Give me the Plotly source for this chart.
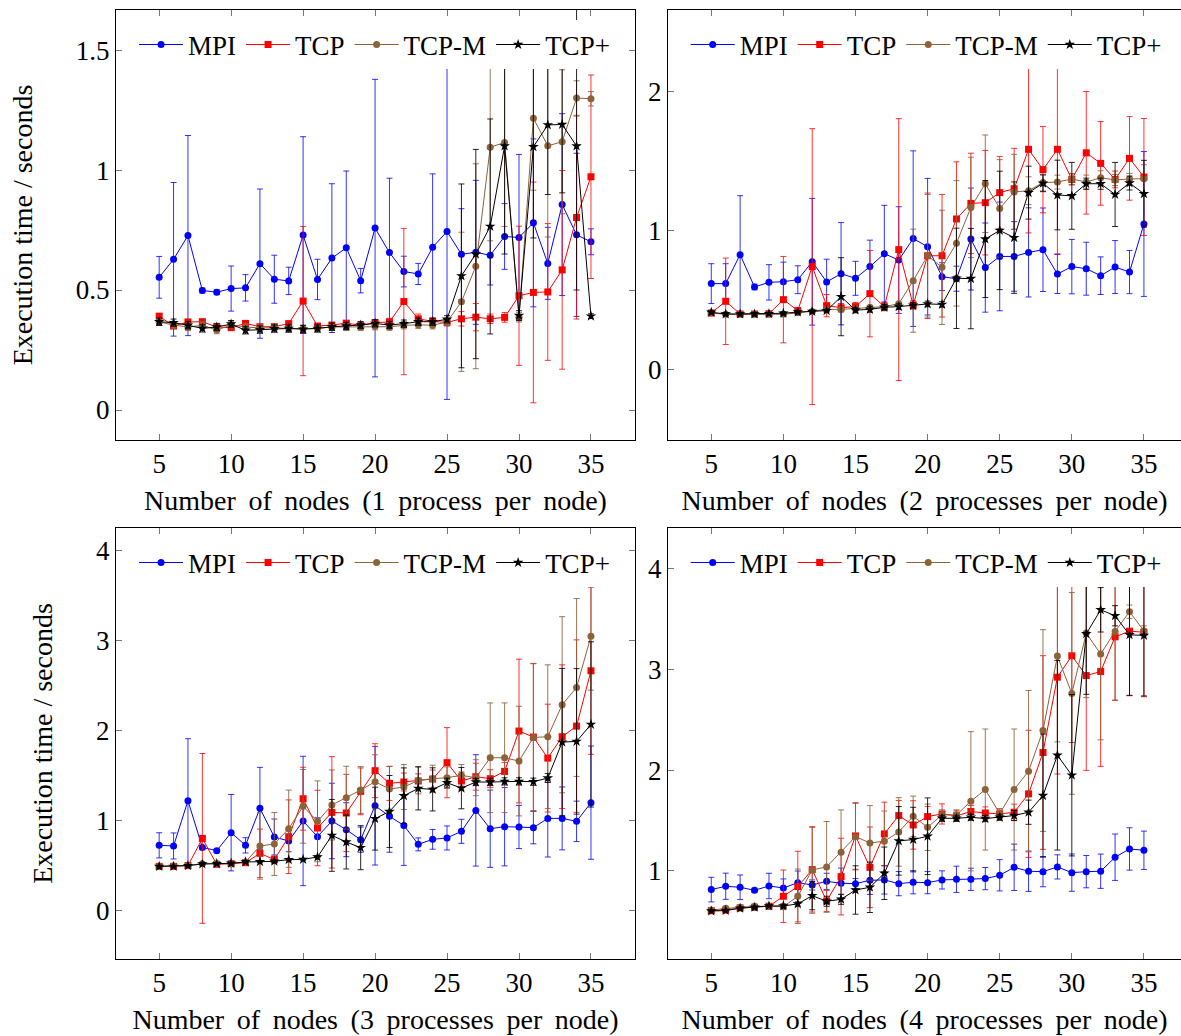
import plotly.graph_objects as go

NODES = [5, 6, 7, 8, 9, 10, 11, 12, 13, 14, 15, 16, 17, 18, 19, 20,
         21, 22, 23, 24, 25, 26, 27, 28, 29, 30, 31, 32, 33, 34, 35]

# ---- 1 process per node ----
MPI1 = [0.553, 0.628, 0.727, 0.498, 0.491, 0.506, 0.509, 0.61, 0.545, 0.538, 0.729, 0.544, 0.633, 0.676, 0.539, 0.758,
        0.656, 0.577, 0.567, 0.678, 0.744, 0.649, 0.657, 0.645, 0.723, 0.719, 0.78, 0.611, 0.856, 0.73, 0.701]
MPI1_ERR = [0.087, 0.32, 0.417, 0.01, 0.01, 0.094, 0.055, 0.311, 0.10, 0.057, 0.41, 0.084, 0.31, 0.32, 0.051, 0.62,
            0.31, 0.064, 0.044, 0.306, 0.70, 0.19, 0.30, 0.124, 0.137, 0.346, 0.35, 0.15, 0.379, 0.34, 0.054]
TCP1 = [0.391, 0.35, 0.367, 0.368, 0.346, 0.343, 0.361, 0.347, 0.347, 0.36, 0.454, 0.35, 0.354, 0.362, 0.353, 0.364,
        0.367, 0.452, 0.38, 0.369, 0.365, 0.38, 0.387, 0.38, 0.386, 0.476, 0.49, 0.492, 0.584, 0.802, 0.972]
TCP1_ERR = [0.01, 0.01, 0.01, 0.01, 0.01, 0.01, 0.01, 0.01, 0.01, 0.01, 0.311, 0.01, 0.01, 0.01, 0.01, 0.01,
            0.015, 0.305, 0.02, 0.015, 0.015, 0.03, 0.057, 0.02, 0.02, 0.29, 0.46, 0.285, 0.414, 0.423, 0.424]
TCPM1 = [0.367, 0.354, 0.346, 0.353, 0.333, 0.355, 0.346, 0.342, 0.343, 0.339, 0.339, 0.34, 0.346, 0.346, 0.346, 0.349,
         0.347, 0.353, 0.355, 0.353, 0.367, 0.451, 0.599, 1.095, 1.115, 0.387, 1.216, 1.101, 1.118, 1.30, 1.297]
TCPM1_ERR = [0.015, 0.015, 0.015, 0.015, 0.015, 0.015, 0.015, 0.015, 0.015, 0.015, 0.015, 0.015, 0.015, 0.015, 0.015, 0.015,
             0.015, 0.015, 0.015, 0.015, 0.015, 0.29, 0.427, 0.39, 0.35, 0.02, 0.3, 0.38, 0.3, 0.072, 0.03]
TCPP1 = [0.368, 0.364, 0.353, 0.34, 0.346, 0.358, 0.332, 0.335, 0.339, 0.34, 0.337, 0.34, 0.347, 0.35, 0.354, 0.361,
         0.354, 0.36, 0.368, 0.368, 0.378, 0.559, 0.65, 0.765, 1.10, 0.394, 1.097, 1.188, 1.19, 1.10, 0.391]
TCPP1_ERR = [0.015, 0.015, 0.015, 0.015, 0.015, 0.015, 0.015, 0.015, 0.015, 0.015, 0.015, 0.015, 0.015, 0.015, 0.015, 0.015,
             0.015, 0.015, 0.015, 0.015, 0.015, 0.383, 0.436, 0.448, 0.45, 0.02, 0.38, 0.29, 0.285, 0.6, 0.01]

# ---- 2 processes per node ----
MPI2 = [0.62, 0.62, 0.828, 0.596, 0.629, 0.634, 0.648, 0.777, 0.632, 0.691, 0.658, 0.742, 0.835, 0.789, 0.943, 0.885,
        0.67, 0.655, 0.94, 0.735, 0.815, 0.815, 0.844, 0.863, 0.689, 0.742, 0.727, 0.677, 0.739, 0.703, 1.048]
MPI2_ERR = [0.143, 0.143, 0.423, 0.02, 0.127, 0.14, 0.1, 0.455, 0.163, 0.367, 0.122, 0.19, 0.347, 0.383, 0.63, 0.49,
            0.1, 0.09, 0.366, 0.32, 0.39, 0.25, 0.32, 0.30, 0.14, 0.195, 0.19, 0.135, 0.19, 0.155, 0.52]
TCP2 = [0.409, 0.493, 0.402, 0.402, 0.404, 0.505, 0.426, 0.742, 0.462, 0.447, 0.455, 0.548, 0.455, 0.864, 0.466, 0.82,
        0.82, 1.084, 1.196, 1.201, 1.273, 1.301, 1.584, 1.438, 1.584, 1.368, 1.559, 1.483, 1.368, 1.519, 1.385]
TCP2_ERR = [0.01, 0.31, 0.01, 0.01, 0.01, 0.31, 0.02, 0.99, 0.08, 0.03, 0.03, 0.31, 0.03, 0.94, 0.03, 0.45,
            0.44, 0.41, 0.36, 0.375, 0.26, 0.29, 0.6, 0.31, 0.75, 0.04, 0.44, 0.30, 0.06, 0.30, 0.42]
TCPM2 = [0.409, 0.40, 0.40, 0.40, 0.40, 0.40, 0.41, 0.42, 0.435, 0.435, 0.44, 0.45, 0.455, 0.475, 0.641, 0.82,
         0.737, 0.909, 1.167, 1.337, 1.16, 1.278, 1.287, 1.345, 1.349, 1.371, 1.349, 1.38, 1.364, 1.371, 1.373]
TCPM2_ERR = [0.01, 0.01, 0.01, 0.01, 0.01, 0.01, 0.01, 0.01, 0.01, 0.01, 0.01, 0.01, 0.01, 0.01, 0.37, 0.44,
             0.41, 0.45, 0.36, 0.35, 0.35, 0.27, 0.1, 0.06, 0.05, 0.04, 0.05, 0.05, 0.04, 0.04, 0.1]
TCPP2 = [0.414, 0.402, 0.402, 0.402, 0.404, 0.407, 0.416, 0.42, 0.426, 0.526, 0.43, 0.435, 0.45, 0.455, 0.464, 0.474,
         0.471, 0.658, 0.656, 0.94, 1.002, 0.95, 1.273, 1.34, 1.256, 1.25, 1.337, 1.337, 1.26, 1.342, 1.265]
TCPP2_ERR = [0.01, 0.01, 0.01, 0.01, 0.01, 0.01, 0.01, 0.01, 0.01, 0.28, 0.02, 0.02, 0.02, 0.02, 0.02, 0.02,
             0.02, 0.36, 0.36, 0.42, 0.425, 0.4, 0.19, 0.06, 0.25, 0.24, 0.04, 0.04, 0.23, 0.05, 0.24]

# ---- 3 processes per node ----
MPI3 = [0.723, 0.716, 1.22, 0.70, 0.664, 0.864, 0.723, 1.135, 0.816, 0.771, 0.994, 0.82, 0.994, 0.897, 0.786, 1.164,
        1.046, 0.945, 0.734, 0.79, 0.805, 0.879, 1.112, 0.908, 0.931, 0.927, 0.92, 1.023, 1.023, 0.99, 1.198]
MPI3_ERR = [0.14, 0.145, 0.69, 0.02, 0.02, 0.425, 0.085, 0.456, 0.2, 0.12, 0.72, 0.21, 0.42, 0.3, 0.14, 0.66,
            0.4, 0.445, 0.072, 0.11, 0.134, 0.134, 0.62, 0.43, 0.436, 0.24, 0.18, 0.43, 0.35, 0.225, 0.63]
TCP3 = [0.489, 0.489, 0.497, 0.80, 0.512, 0.519, 0.53, 0.634, 0.564, 0.819, 1.242, 0.916, 1.09, 1.083, 1.324, 1.554,
        1.413, 1.428, 1.439, 1.461, 1.643, 1.439, 1.487, 1.465, 1.546, 1.995, 1.928, 1.694, 1.932, 2.05, 2.666]
TCP3_ERR = [0.01, 0.01, 0.01, 0.945, 0.01, 0.02, 0.02, 0.27, 0.04, 0.41, 0.35, 0.42, 0.62, 0.43, 0.26, 0.3,
            0.19, 0.1, 0.08, 0.1, 0.39, 0.1, 0.15, 0.1, 0.1, 0.8, 0.82, 0.6, 0.8, 0.96, 0.93]
TCPM3 = [0.489, 0.492, 0.5, 0.519, 0.519, 0.519, 0.538, 0.716, 0.738, 0.908, 1.157, 0.99, 1.172, 1.253, 1.339, 1.431,
         1.35, 1.372, 1.446, 1.465, 1.476, 1.502, 1.476, 1.698, 1.698, 1.661, 1.924, 1.932, 2.288, 2.48, 3.05]
TCPM3_ERR = [0.01, 0.01, 0.01, 0.01, 0.01, 0.01, 0.02, 0.37, 0.35, 0.43, 0.41, 0.45, 0.39, 0.35, 0.26, 0.3,
             0.25, 0.25, 0.15, 0.15, 0.12, 0.12, 0.2, 0.61, 0.61, 0.61, 0.82, 0.8, 0.98, 0.99, 0.6]
TCPP3 = [0.489, 0.489, 0.497, 0.515, 0.519, 0.523, 0.538, 0.541, 0.545, 0.564, 0.567, 0.593, 0.834, 0.76, 0.697, 1.02,
         1.10, 1.275, 1.357, 1.346, 1.42, 1.36, 1.428, 1.428, 1.435, 1.435, 1.431, 1.472, 1.872, 1.88, 2.069]
TCPP3_ERR = [0.01, 0.01, 0.01, 0.01, 0.01, 0.01, 0.01, 0.01, 0.01, 0.01, 0.01, 0.01, 0.4, 0.3, 0.245, 0.35,
             0.4, 0.31, 0.24, 0.24, 0.05, 0.23, 0.04, 0.04, 0.04, 0.04, 0.04, 0.05, 0.82, 0.81, 0.92]

# ---- 4 processes per node ----
MPI4 = [0.815, 0.848, 0.838, 0.808, 0.851, 0.831, 0.884, 0.861, 0.897, 0.878, 0.874, 0.907, 0.911, 0.874, 0.888, 0.884,
        0.911, 0.917, 0.917, 0.924, 0.957, 1.036, 0.997, 0.993, 1.04, 0.983, 0.993, 0.997, 1.136, 1.218, 1.205]
MPI4_ERR = [0.122, 0.13, 0.122, 0.02, 0.126, 0.09, 0.115, 0.05, 0.08, 0.15, 0.05, 0.14, 0.14, 0.12, 0.115, 0.11,
            0.09, 0.13, 0.11, 0.11, 0.155, 0.23, 0.2, 0.15, 0.12, 0.185, 0.16, 0.17, 0.23, 0.21, 0.19]
TCP4 = [0.606, 0.613, 0.633, 0.64, 0.65, 0.749, 0.845, 1.013, 0.702, 0.944, 1.347, 1.036, 1.367, 1.549, 1.456, 1.539,
        1.565, 1.546, 1.589, 1.575, 1.565, 1.582, 1.764, 2.174, 2.921, 3.133, 2.937, 2.977, 3.321, 3.377, 3.367]
TCP4_ERR = [0.01, 0.01, 0.01, 0.01, 0.01, 0.26, 0.35, 0.42, 0.105, 0.38, 0.33, 0.4, 0.315, 0.15, 0.24, 0.1,
            0.1, 0.05, 0.06, 0.06, 0.04, 0.08, 0.63, 0.96, 0.96, 0.86, 0.94, 0.94, 0.63, 0.64, 0.64]
TCPM4 = [0.613, 0.63, 0.64, 0.65, 0.65, 0.646, 0.749, 1.01, 1.04, 1.185, 1.34, 1.278, 1.294, 1.387, 1.542, 1.433,
         1.556, 1.556, 1.691, 1.807, 1.569, 1.807, 1.989, 2.392, 3.13, 2.76, 3.358, 3.15, 3.374, 3.57, 3.38]
TCPM4_ERR = [0.01, 0.01, 0.01, 0.01, 0.01, 0.01, 0.27, 0.43, 0.45, 0.42, 0.33, 0.37, 0.3, 0.34, 0.2, 0.23,
             0.05, 0.05, 0.69, 0.6, 0.05, 0.6, 0.8, 1.0, 0.85, 1.0, 0.64, 0.85, 0.68, 0.066, 0.05]
TCPP4 = [0.603, 0.607, 0.63, 0.64, 0.653, 0.653, 0.673, 0.755, 0.699, 0.719, 0.811, 0.838, 0.977, 1.298, 1.311, 1.344,
         1.522, 1.522, 1.532, 1.519, 1.532, 1.549, 1.582, 1.747, 2.147, 1.949, 3.351, 3.589, 3.53, 3.341, 3.335]
TCPP4_ERR = [0.01, 0.01, 0.01, 0.01, 0.01, 0.02, 0.02, 0.14, 0.05, 0.05, 0.24, 0.25, 0.26, 0.34, 0.32, 0.38,
             0.03, 0.03, 0.03, 0.03, 0.03, 0.05, 0.12, 0.61, 0.94, 0.8, 0.6, 0.22, 0.1, 0.6, 0.6]

SERIES_NAMES = ["MPI", "TCP", "TCP-M", "TCP+"]
X_TITLES = ["Number of nodes (1 process per node)", "Number of nodes (2 processes per node)",
            "Number of nodes (3 processes per node)", "Number of nodes (4 processes per node)"]
Y_TITLE = "Execution time / seconds"
Y_TICKS = [[0, 0.5, 1, 1.5], [0, 1, 2], [0, 1, 2, 3, 4], [1, 2, 3, 4]]
Y_TICKTEXT = [["0", "0.5", "1", "1.5"], ["0", "1", "2"], ["0", "1", "2", "3", "4"], ["1", "2", "3", "4"]]
X_TICKS = [5, 10, 15, 20, 25, 30, 35]

PANELS = [
    [(MPI1, MPI1_ERR), (TCP1, TCP1_ERR), (TCPM1, TCPM1_ERR), (TCPP1, TCPP1_ERR)],
    [(MPI2, MPI2_ERR), (TCP2, TCP2_ERR), (TCPM2, TCPM2_ERR), (TCPP2, TCPP2_ERR)],
    [(MPI3, MPI3_ERR), (TCP3, TCP3_ERR), (TCPM3, TCPM3_ERR), (TCPP3, TCPP3_ERR)],
    [(MPI4, MPI4_ERR), (TCP4, TCP4_ERR), (TCPM4, TCPM4_ERR), (TCPP4, TCPP4_ERR)],
]

LINE_COLORS = ["#0000ff", "#ff0000", "#8c6239", "#000000"]
ERR_COLORS = ["rgba(0,0,255,0.8)", "rgba(255,0,0,0.8)", "rgba(140,98,57,0.85)", "rgba(0,0,0,0.85)"]
SYMBOLS = ["circle", "square", "circle", "star"]
MSIZES = [7, 7, 7, 8]

W, H = 1181, 1036
FONT = "Liberation Serif, DejaVu Serif, serif"
TICK_SIZE = 27
TITLE_SIZE = 28
LEG_SIZE = 27

# pixel geometry of the four frames (left, right, top, bottom)
FRAMES = [(116, 635, 10, 440), (668, 1181, 10, 440), (116, 635, 528, 959), (668, 1181, 528, 959)]
X_RANGES = [[2.0, 38.06], [2.0, 37.57], [2.0, 38.06], [2.0, 37.57]]
Y_RANGES = [[-0.125, 1.667], [-0.5025, 2.584], [-0.542, 4.255], [0.127, 4.40]]
LEG_POS = [(0.1135, 0.9566), (0.5806, 0.9566), (0.1135, 0.4566), (0.5806, 0.4566)]


def spaced(text, sep):
    return sep.join(text.split(" "))


fig = go.Figure()
layout = dict(width=W, height=H, margin=dict(l=0, r=0, t=0, b=0),
              paper_bgcolor="white", plot_bgcolor="white",
              font=dict(family=FONT, size=TITLE_SIZE, color="black"))

for p in range(4):
    sfx = "" if p == 0 else str(p + 1)
    leg = "legend" if p == 0 else "legend%d" % (p + 1)
    right_panel = p in (1, 3)
    for s, (vals, errs) in enumerate(PANELS[p]):
        fig.add_trace(go.Scatter(
            x=NODES, y=vals, name=SERIES_NAMES[s], mode="lines+markers",
            xaxis="x" + sfx, yaxis="y" + sfx, legend=leg,
            line=dict(color=LINE_COLORS[s], width=1),
            marker=dict(symbol=SYMBOLS[s], size=MSIZES[s], color=LINE_COLORS[s],
                        line=dict(width=0)),
            error_y=dict(type="data", array=errs, visible=True, color=ERR_COLORS[s],
                         thickness=1, width=3),
            cliponaxis=True,
        ))
    l, r, t, b = FRAMES[p]
    layout["xaxis" + sfx] = dict(
        domain=[l / W, min(r / W, 1.0)], range=X_RANGES[p], anchor="y" + sfx,
        tickvals=X_TICKS, ticks="inside", ticklen=6, tickcolor="#777777",
        showline=True, linecolor="black", linewidth=1, mirror="ticks",
        showgrid=False, zeroline=False,
        tickfont=dict(family=FONT, size=TICK_SIZE),
        title=dict(text=spaced(X_TITLES[p], " \u2009"), font=dict(family=FONT, size=TITLE_SIZE), standoff=11),
    )
    layout["yaxis" + sfx] = dict(
        domain=[1 - b / H, 1 - t / H], range=Y_RANGES[p], anchor="x" + sfx,
        tickvals=Y_TICKS[p], ticktext=Y_TICKTEXT[p], ticks="inside", ticklen=6,
        tickcolor="#777777", showline=True, linecolor="black", linewidth=1,
        mirror=False if right_panel else "ticks", showgrid=False, zeroline=False,
        tickfont=dict(family=FONT, size=TICK_SIZE),
        title=dict(text="" if right_panel else Y_TITLE,
                   font=dict(family=FONT, size=TITLE_SIZE), standoff=35),
    )
    lx, ly = LEG_POS[p]
    layout[leg] = dict(x=lx, y=ly, xanchor="left", yanchor="middle", orientation="h",
                       bgcolor="white", borderwidth=0, font=dict(family=FONT, size=LEG_SIZE),
                       itemwidth=44, tracegroupgap=0)

fig.update_layout(**layout)
fig.write_html("out.html")
